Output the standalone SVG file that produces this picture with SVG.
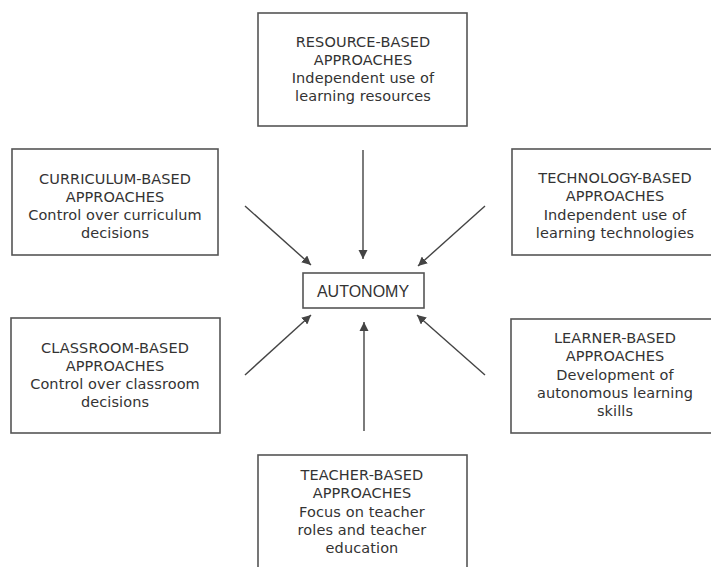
<svg xmlns="http://www.w3.org/2000/svg" width="711" height="567" viewBox="0 0 711 567">
<style>
.box{fill:#fff;stroke:#555;stroke-width:1.6}
.t{font-family:"DejaVu Sans","Noto Sans",sans-serif;font-size:14.5px;letter-spacing:0.1px;fill:#333;text-anchor:middle}
.a{font-family:"Liberation Sans",Arial,sans-serif;font-size:16px;fill:#333;text-anchor:middle}
.c{stroke:#444;stroke-width:1.4;fill:none;marker-end:url(#ah)}
</style>
<defs>
<marker id="ah" viewBox="0 0 10 10" refX="10" refY="5" markerWidth="6.5" markerHeight="6.5" markerUnits="strokeWidth" orient="auto">
<path d="M0,0 L10,5 L0,10 z" fill="#444"/>
</marker>
</defs>
<rect width="711" height="567" fill="#fff"/>
<g id="resource">
<rect class="box" x="258" y="13" width="209" height="113"/>
<text class="t" y="47"><tspan x="363">RESOURCE-BASED</tspan><tspan x="363" dy="18">APPROACHES</tspan><tspan x="363" dy="18">Independent use of</tspan><tspan x="363" dy="18">learning resources</tspan></text>
</g>
<g id="curriculum">
<rect class="box" x="12" y="149" width="206" height="106"/>
<text class="t" y="184"><tspan x="115">CURRICULUM-BASED</tspan><tspan x="115" dy="18">APPROACHES</tspan><tspan x="115" dy="18">Control over curriculum</tspan><tspan x="115" dy="18">decisions</tspan></text>
</g>
<g id="technology">
<rect class="box" x="512" y="149" width="210" height="106"/>
<text class="t" y="183"><tspan x="615">TECHNOLOGY-BASED</tspan><tspan x="615" dy="18.3">APPROACHES</tspan><tspan x="615" dy="18.3">Independent use of</tspan><tspan x="615" dy="18.3">learning technologies</tspan></text>
</g>
<g id="autonomy">
<rect class="box" x="303" y="273" width="121" height="35"/>
<text class="a" x="363" y="297">AUTONOMY</text>
</g>
<g id="classroom">
<rect class="box" x="11" y="318" width="209" height="115"/>
<text class="t" y="353"><tspan x="115">CLASSROOM-BASED</tspan><tspan x="115" dy="18">APPROACHES</tspan><tspan x="115" dy="18">Control over classroom</tspan><tspan x="115" dy="18">decisions</tspan></text>
</g>
<g id="learner">
<rect class="box" x="511" y="319" width="211" height="114"/>
<text class="t" y="343"><tspan x="615">LEARNER-BASED</tspan><tspan x="615" dy="18.3">APPROACHES</tspan><tspan x="615" dy="18.3">Development of</tspan><tspan x="615" dy="18.3">autonomous learning</tspan><tspan x="615" dy="18.3">skills</tspan></text>
</g>
<g id="teacher">
<rect class="box" x="258" y="455" width="209" height="130"/>
<text class="t" y="480"><tspan x="362">TEACHER-BASED</tspan><tspan x="362" dy="18.3">APPROACHES</tspan><tspan x="362" dy="18.3">Focus on teacher</tspan><tspan x="362" dy="18.3">roles and teacher</tspan><tspan x="362" dy="18.3">education</tspan></text>
</g>
<g id="connectors">
<line class="c" x1="363" y1="150" x2="363" y2="259"/>
<line class="c" x1="364" y1="431" x2="364" y2="322"/>
<line class="c" x1="245" y1="206" x2="311" y2="265"/>
<line class="c" x1="485" y1="206" x2="418" y2="266"/>
<line class="c" x1="245" y1="375" x2="311" y2="315"/>
<line class="c" x1="485" y1="375" x2="417" y2="315"/>
</g>
</svg>
